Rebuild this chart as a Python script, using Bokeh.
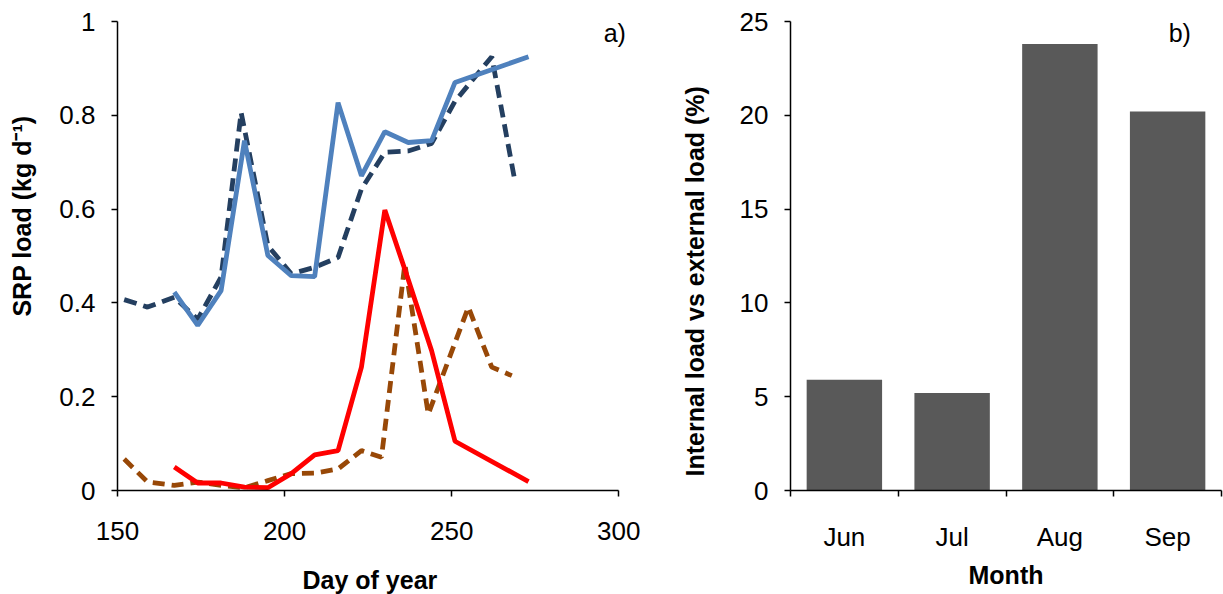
from bokeh.plotting import figure
from bokeh.layouts import row
from bokeh.models import FixedTicker, Label, Range1d, Title
from bokeh.embed import file_html
from bokeh.resources import INLINE

# ---- data: panel a) ----
blue_day = [167, 174, 181, 188, 195, 202, 209, 216, 223, 230, 237, 244, 251, 273]
blue_val = [0.423, 0.352, 0.426, 0.746, 0.501, 0.458, 0.456, 0.827, 0.671, 0.765, 0.742, 0.746, 0.870, 0.925]

navy_day = [152, 159, 167, 174, 181, 187, 195, 202, 209, 216, 223, 230, 237, 244, 251, 262, 269]
navy_val = [0.407, 0.391, 0.412, 0.365, 0.455, 0.806, 0.522, 0.462, 0.476, 0.497, 0.643, 0.721, 0.724, 0.740, 0.830, 0.925, 0.657]

red_day = [167, 174, 181, 188, 195, 202, 209, 216, 223, 230, 237, 244, 251, 273]
red_val = [0.050, 0.016, 0.016, 0.007, 0.006, 0.036, 0.076, 0.085, 0.263, 0.598, 0.450, 0.298, 0.105, 0.019]

brown_day = [152, 159, 167, 174, 181, 188, 195, 202, 209, 216, 223, 229, 236, 243, 255, 262, 268]
brown_val = [0.067, 0.018, 0.011, 0.018, 0.011, 0.006, 0.021, 0.036, 0.037, 0.046, 0.085, 0.071, 0.483, 0.163, 0.391, 0.263, 0.245]

x_ticks_a = [150, 200, 250, 300]
y_ticks_a = [0, 0.2, 0.4, 0.6, 0.8, 1]
y_labels_a = ["0", "0.2", "0.4", "0.6", "0.8", "1"]

# ---- data: panel b) ----
months = ["Jun", "Jul", "Aug", "Sep"]
ratio = [5.9, 5.2, 23.8, 20.2]
y_ticks_b = [0, 5, 10, 15, 20, 25]

FONT = "Liberation Sans"
TICK_SIZE = "26px"
LABEL_SIZE = "25px"


def style_axis(ax):
    ax.axis_line_color = "black"
    ax.axis_line_width = 1.5
    ax.major_tick_line_color = "black"
    ax.major_tick_line_width = 1.5
    ax.minor_tick_line_color = "black"
    ax.minor_tick_line_width = 1.5
    ax.major_tick_in = 0
    ax.major_tick_out = 6
    ax.minor_tick_in = 0
    ax.minor_tick_out = 0
    ax.major_label_text_font = FONT
    ax.major_label_text_font_size = TICK_SIZE
    ax.major_label_text_color = "black"


def spacer(ax, gap):
    # blank axis label used only to reserve room between tick labels and the title
    ax.axis_label = " "
    ax.axis_label_text_font_size = "6px"
    ax.axis_label_standoff = gap


def side_title(text, align, offset, standoff):
    return Title(text=text, align=align, offset=offset, standoff=standoff,
                 text_font=FONT, text_font_size=LABEL_SIZE, text_font_style="bold",
                 text_color="black")


# ---------------- panel a ----------------
pa = figure(width=660, height=594, output_backend="svg", toolbar_location=None,
            x_range=Range1d(150, 311), y_range=Range1d(0, 1),
            min_border_left=115, min_border_right=5, min_border_top=21, min_border_bottom=104)
pa.outline_line_color = None
pa.grid.visible = False
pa.background_fill_color = "white"
pa.border_fill_color = "white"

pa.line(navy_day, navy_val, line_color="#243F60", line_width=4.8, line_dash="13 7")
pa.line(blue_day, blue_val, line_color="#4F81BD", line_width=4.8)
pa.line(brown_day, brown_val, line_color="#984807", line_width=4.8, line_dash="12 7")
pa.line(red_day, red_val, line_color="#FF0000", line_width=4.8)

for ax in (pa.xaxis[0], pa.yaxis[0]):
    style_axis(ax)
pa.xaxis[0].bounds = (x_ticks_a[0], x_ticks_a[-1])
pa.xaxis[0].ticker = FixedTicker(ticks=x_ticks_a)
pa.yaxis[0].ticker = FixedTicker(ticks=y_ticks_a)
pa.yaxis[0].major_label_overrides = dict(zip(y_ticks_a, y_labels_a))
pa.xaxis[0].major_label_standoff = 25
pa.yaxis[0].major_label_standoff = 16
spacer(pa.xaxis[0], 12)
spacer(pa.yaxis[0], 7)
pa.add_layout(side_title("SRP load (kg d\u207b\u00b9)", "right", 94, 10), "left")
pa.add_layout(side_title("Day of year", "left", 185, 0), "below")

pa.add_layout(Label(x=295.5, y=0.976, text="a)", text_font=FONT, text_font_size="25px",
                    text_align="left", text_baseline="middle", text_color="black"))

# ---------------- panel b ----------------
pb = figure(width=563, height=594, output_backend="svg", toolbar_location=None,
            x_range=Range1d(0, len(months)), y_range=Range1d(0, 25),
            min_border_left=130, min_border_right=2, min_border_top=20, min_border_bottom=95)
pb.outline_line_color = None
pb.grid.visible = False
pb.background_fill_color = "white"
pb.border_fill_color = "white"

centers = [i + 0.5 for i in range(len(months))]
pb.vbar(x=centers, top=ratio, width=0.70, bottom=0, fill_color="#595959", line_color=None)

for ax in (pb.xaxis[0], pb.yaxis[0]):
    style_axis(ax)
pb.xaxis[0].ticker = FixedTicker(ticks=centers, minor_ticks=list(range(len(months) + 1)))
pb.xaxis[0].major_label_overrides = dict(zip(centers, months))
pb.xaxis[0].major_tick_out = 0
pb.xaxis[0].minor_tick_out = 6
pb.yaxis[0].ticker = FixedTicker(ticks=y_ticks_b)
pb.xaxis[0].axis_label = "Month"
pb.xaxis[0].axis_label_text_font = FONT
pb.xaxis[0].axis_label_text_font_size = LABEL_SIZE
pb.xaxis[0].axis_label_text_font_style = "bold"
pb.xaxis[0].axis_label_text_color = "black"
pb.xaxis[0].major_label_standoff = 25
pb.xaxis[0].axis_label_standoff = 6
pb.yaxis[0].major_label_standoff = 16
spacer(pb.yaxis[0], 14)
pb.add_layout(side_title("Internal load vs external load (%)", "left", 14, 10), "left")

pb.add_layout(Label(x=3.51, y=24.37, text="b)", text_font=FONT, text_font_size="25px",
                    text_align="left", text_baseline="middle", text_color="black"))

layout = row(pa, pb)
open("out.html", "w").write(file_html(layout, INLINE))
